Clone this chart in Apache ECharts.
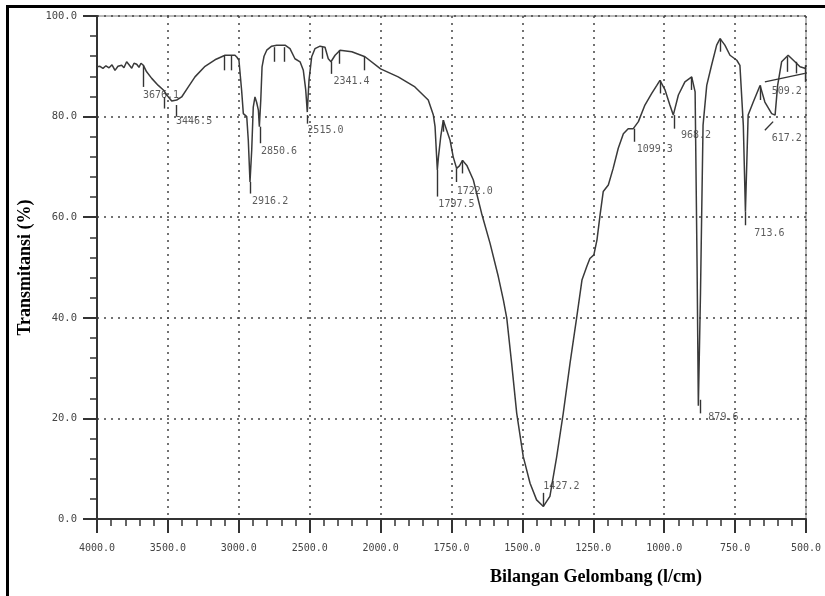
<!DOCTYPE html>
<html>
<head>
<meta charset="utf-8">
<script src="https://cdn.jsdelivr.net/npm/echarts@6/dist/echarts.min.js"></script>
<style>
  html, body { margin: 0; padding: 0; background: #fff; }
  #chart { width: 825px; height: 596px; }
</style>
</head>
<body>
<div id="chart"></div>
<script>
// x axis ticks: wavenumber scale is expanded 2x below 2000
var tickWaves = [4000, 3500, 3000, 2500, 2000, 1750, 1500, 1250, 1000, 750, 500];
var tickLabels = ['4000.0', '3500.0', '3000.0', '2500.0', '2000.0', '1750.0', '1500.0', '1250.0', '1000.0', '750.0', '500.0'];

// spectrum
var waveNumbers = [
    4000, 3979, 3958, 3937, 3915, 3894, 3873, 3852, 3826, 3810,
    3791, 3774, 3755, 3739, 3720, 3704, 3690, 3673, 3650, 3614,
    3568, 3532, 3508, 3473, 3438, 3403, 3356, 3309, 3238, 3168,
    3097, 3027, 3013, 2999, 2980, 2968, 2956, 2944, 2933, 2921,
    2909, 2898, 2886, 2874, 2862, 2855, 2845, 2836, 2822, 2803,
    2768, 2733, 2674, 2639, 2604, 2568, 2545, 2528, 2517, 2505,
    2486, 2463, 2427, 2392, 2369, 2350, 2321, 2286, 2203, 2110,
    2000, 1938, 1879, 1861, 1832, 1814, 1808, 1800, 1796, 1788,
    1779, 1767, 1755, 1744, 1732, 1722, 1711, 1696, 1673, 1644,
    1614, 1585, 1567, 1555, 1538, 1520, 1497, 1473, 1450, 1426,
    1403, 1379, 1356, 1332, 1309, 1290, 1273, 1262, 1248, 1237,
    1226, 1215, 1197, 1180, 1162, 1144, 1127, 1109, 1091, 1068,
    1044, 1026, 1015, 997, 980, 968, 950, 927, 903, 891,
    884, 879.6, 872, 868, 863, 850, 833, 815, 803, 786,
    768, 744, 733, 721, 713.6, 704, 686, 662, 645, 621,
    609, 600, 586, 563, 539, 521, 504, 500
];
var transmittance = [
    89.9, 90.0, 89.6, 90.1, 89.7, 90.3, 89.2, 90.0, 90.2, 89.7,
    90.9, 90.3, 89.6, 90.6, 90.4, 89.8, 90.6, 90.2, 88.9, 87.6,
    86.2, 85.3, 84.3, 83.1, 83.3, 83.9, 85.9, 87.9, 90.0, 91.3,
    92.2, 92.2, 91.8, 91.2, 85.2, 80.6, 80.3, 80.0, 75.3, 67.0,
    73.3, 81.9, 83.9, 82.8, 81.3, 78.0, 83.3, 89.9, 92.0, 93.2,
    94.0, 94.2, 94.2, 93.5, 91.5, 90.9, 89.2, 85.3, 80.9, 87.2,
    91.9, 93.5, 94.0, 93.8, 91.5, 90.9, 92.2, 93.2, 92.9, 91.9,
    89.5, 87.9, 85.9, 84.9, 83.3, 80.3, 78.0, 69.4, 72.0, 76.0,
    79.3, 77.3, 75.3, 72.0, 69.7, 70.2, 71.3, 70.3, 67.4, 60.8,
    54.8, 48.2, 43.5, 39.9, 31.0, 21.0, 12.4, 7.1, 3.8, 2.5,
    4.5, 12.4, 21.0, 31.0, 39.9, 47.5, 50.2, 51.8, 52.5, 55.5,
    60.5, 65.1, 66.4, 69.7, 73.7, 76.6, 77.6, 77.6, 79.0, 82.3,
    84.6, 86.2, 87.2, 85.3, 82.3, 80.3, 84.3, 86.9, 87.9, 84.9,
    50.0, 22.5, 45.0, 60.0, 78.3, 86.2, 90.2, 94.2, 95.5, 94.2,
    92.2, 91.2, 90.2, 78.3, 61.1, 80.3, 82.9, 86.2, 82.9, 80.6,
    80.3, 86.2, 90.9, 92.2, 90.9, 89.9, 89.6, 89.4
];

// peak-pick tick marks: [wavenumber, top %T, bottom %T] (two-ended segments)
var markFrom = [
    [3676, 90.2], [3525, 83.9], [3443, 82.3], [3104, 92.2], [3050, 92.2],
    [2916, 67.0], [2850, 78.0], [2752, 93.8], [2681, 93.8], [2517, 80.3],
    [2415, 93.8], [2350, 90.9], [2291, 93.2], [2115, 91.9], [1800, 69.4],
    [1779, 79.3], [1732, 69.7], [1711, 71.3], [1426, 5.2], [1105, 77.6],
    [1015, 87.2], [966, 80.3], [903, 87.9], [874, 23.7], [803, 95.5],
    [713, 61.1], [662, 86.2], [565, 91.9], [533, 90.9], [504, 90.2],
    [645, 77.3], [645, 86.9]
];
var markTo = [
    [3676, 85.9], [3525, 81.6], [3443, 80.0], [3104, 89.2], [3050, 89.2],
    [2916, 64.7], [2850, 74.7], [2752, 90.9], [2681, 90.9], [2517, 78.6],
    [2415, 91.5], [2350, 88.5], [2291, 90.5], [2115, 89.2], [1800, 64.1],
    [1779, 77.0], [1732, 67.0], [1711, 68.7], [1426, 2.5], [1105, 75.0],
    [1015, 84.6], [966, 77.6], [903, 85.3], [874, 21.0], [803, 92.9],
    [713, 58.4], [662, 83.3], [565, 88.9], [533, 88.6], [504, 86.9],
    [616, 79.0], [504, 88.6]
];

// peak labels and where their text starts
var peakNames = ['3676.1', '3446.5', '2916.2', '2850.6', '2515.0', '2341.4', '1797.5', '1722.0',
                 '1427.2', '1099.3', '968.2', '879.6', '713.6', '617.2', '509.2'];
var peakLabelWave = [3676, 3443, 2907, 2844, 2517, 2333, 1796.5, 1731.7,
                     1426.3, 1097, 941, 844.5, 682.3, 621, 621];
var peakLabelT = [84.3, 79.0, 63.1, 73.0, 77.3, 86.9, 62.6, 65.2,
                  6.5, 73.5, 76.3, 20.1, 56.8, 75.7, 85.1];

// wavenumber -> axis position (0..10), piecewise along the tick list
function toPos(w) {
    for (var i = 0; i < tickWaves.length - 1; i++) {
        if (w <= tickWaves[i] && w >= tickWaves[i + 1]) {
            return i + (tickWaves[i] - w) / (tickWaves[i] - tickWaves[i + 1]);
        }
    }
    return w > tickWaves[0] ? 0 : tickWaves.length - 1;
}

var chart = echarts.init(document.getElementById('chart'));

var monoFont = 'DejaVu Sans Mono';
var axisColor = '#333';
var gridLine = { show: true, lineStyle: { type: [2, 5], color: '#444', width: 1.5 } };

var option = {
    animation: false,
    backgroundColor: '#fff',
    grid: { left: 97, right: 19, top: 16, bottom: 77, show: true, borderColor: '#777', borderWidth: 1 },
    xAxis: {
        type: 'value', min: 0, max: 10, interval: 1,
        axisLine: { lineStyle: { color: axisColor, width: 2 } },
        axisTick: { length: 14, lineStyle: { color: axisColor, width: 2 } },
        minorTick: { show: true, splitNumber: 5, length: 7, lineStyle: { color: axisColor, width: 1.5 } },
        axisLabel: {
            formatter: function (v) { return tickLabels[Math.round(v)]; },
            margin: 24, fontFamily: monoFont, fontSize: 10, color: '#444'
        },
        splitLine: gridLine
    },
    yAxis: {
        type: 'value', min: 0, max: 100, interval: 20,
        name: 'Transmitansi (%)', nameLocation: 'middle', nameGap: 58,
        nameTextStyle: { fontFamily: 'Liberation Serif', fontWeight: 'bold', fontSize: 18, color: '#000' },
        axisLine: { lineStyle: { color: axisColor, width: 2 } },
        axisTick: { length: 14, lineStyle: { color: axisColor, width: 2 } },
        minorTick: { show: true, splitNumber: 5, length: 7, lineStyle: { color: axisColor, width: 1.5 } },
        axisLabel: {
            formatter: function (v) { return v.toFixed(1); },
            margin: 20, fontFamily: monoFont, fontSize: 10.5, color: '#444'
        },
        splitLine: gridLine
    },
    graphic: [
        { type: 'rect', shape: { x: 6, y: 5, width: 819, height: 3 }, style: { fill: '#000' } },
        { type: 'rect', shape: { x: 6, y: 5, width: 3, height: 591 }, style: { fill: '#000' } },
        {
            type: 'text', x: 596, y: 577,
            style: {
                text: 'Bilangan Gelombang (l/cm)', font: 'bold 18px "Liberation Serif"',
                align: 'center', verticalAlign: 'middle', fill: '#000'
            }
        }
    ],
    series: [
        {
            type: 'line',
            data: waveNumbers.map(function (w, i) { return [toPos(w), transmittance[i]]; }),
            showSymbol: false,
            lineStyle: { color: '#3a3a3a', width: 1.5 },
            silent: true,
            markLine: {
                silent: true,
                symbol: ['none', 'none'],
                label: { show: false },
                lineStyle: { color: '#333', width: 1.4, type: 'solid' },
                data: markFrom.map(function (a, i) {
                    return [
                        { coord: [toPos(a[0]), a[1]] },
                        { coord: [toPos(markTo[i][0]), markTo[i][1]] }
                    ];
                })
            }
        },
        {
            type: 'scatter',
            symbolSize: 0.1,
            itemStyle: { color: 'transparent' },
            silent: true,
            data: peakNames.map(function (t, i) { return [toPos(peakLabelWave[i]), peakLabelT[i], t]; }),
            label: {
                show: true, position: 'right', distance: 0,
                formatter: function (p) { return p.data[2]; },
                fontFamily: monoFont, fontSize: 10, color: '#333'
            }
        }
    ]
};

chart.setOption(option);
</script>
</body>
</html>
